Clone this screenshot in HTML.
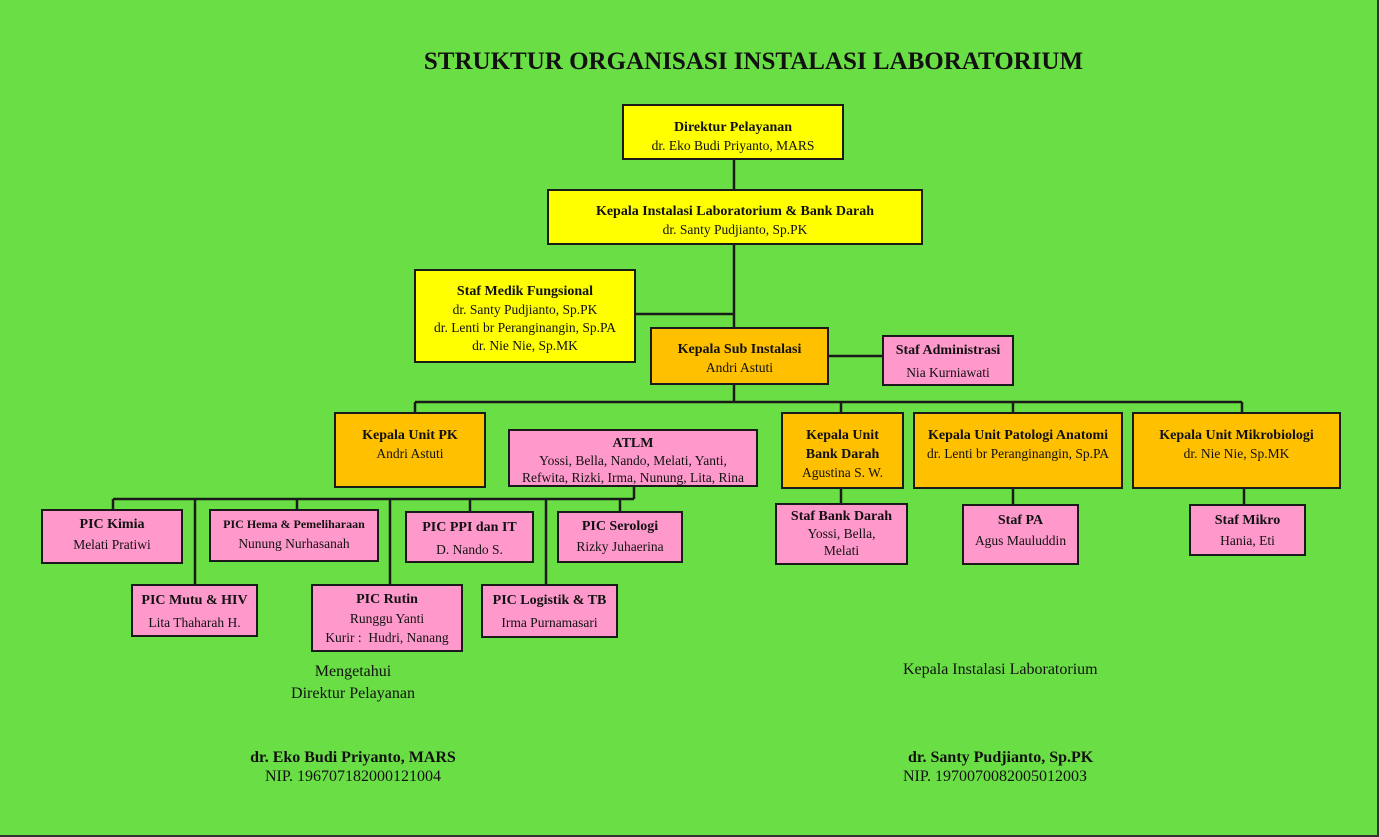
<!DOCTYPE html>
<html><head><meta charset="utf-8"><style>
body{margin:0;width:1379px;height:837px;background:#6ade45;position:relative;overflow:hidden;font-family:"Liberation Serif",serif;color:#111}
.b{position:absolute;box-sizing:border-box;border:2px solid #1a1a1a;text-align:center;font-size:13.5px;line-height:18px;white-space:nowrap}
.y{background:#ffff00}.o{background:#ffc000}.p{background:#ff99cc}
b{font-weight:bold;font-size:14px}
.t{position:absolute;font-size:16px;text-align:center;white-space:nowrap}
.t b{font-size:16px}
svg{position:absolute;left:0;top:0}
</style></head><body>
<div style="position:absolute;right:0;top:0;width:2px;height:837px;background:#333"></div>
<div style="position:absolute;left:0;bottom:0;width:1379px;height:2px;background:#333"></div>
<svg width="1379" height="837"><g stroke="#1a1a1a" stroke-width="2.5" fill="none">
<path d="M734 159V189M734 244V327M635 314H734M828 356H882M734 384V402M415 402H1242M415 402V412M841 402V412M1013 402V412M1242 402V412"/>
<path d="M113 499H634M634 486V499M113 499V509M195 499V584M297 499V509M390 499V584M470 499V511M546 499V584M620 499V511"/>
<path d="M841 488V503M1013 488V504M1244 488V504"/>
</g></svg>
<div class="t" style="left:0;width:1507px;top:48px;font-size:25px;font-weight:bold">STRUKTUR ORGANISASI INSTALASI LABORATORIUM</div>

<div class="b y" style="left:622px;top:104px;width:222px;height:56px;padding-top:12px"><b>Direktur Pelayanan</b><br>dr. Eko Budi Priyanto, MARS</div>
<div class="b y" style="left:547px;top:189px;width:376px;height:56px;padding-top:11px"><b>Kepala Instalasi Laboratorium &amp; Bank Darah</b><br>dr. Santy Pudjianto, Sp.PK</div>
<div class="b y" style="left:414px;top:269px;width:222px;height:94px;padding-top:11px"><b>Staf Medik Fungsional</b><br>dr. Santy Pudjianto, Sp.PK<br>dr. Lenti br Peranginangin, Sp.PA<br>dr. Nie Nie, Sp.MK</div>
<div class="b o" style="left:650px;top:327px;width:179px;height:58px;padding-top:11px"><b>Kepala Sub Instalasi</b><br>Andri Astuti</div>
<div class="b p" style="left:882px;top:335px;width:132px;height:51px;padding-top:4px"><b>Staf Administrasi</b><br><span style="line-height:26px">Nia Kurniawati</span></div>

<div class="b o" style="left:334px;top:412px;width:152px;height:76px;padding-top:12px"><b>Kepala Unit PK</b><br>Andri Astuti</div>
<div class="b p" style="left:508px;top:429px;width:250px;height:58px;padding-top:3px;line-height:17px"><b>ATLM</b><br>Yossi, Bella, Nando, Melati, Yanti,<br>Refwita, Rizki, Irma, Nunung, Lita, Rina</div>
<div class="b o" style="left:781px;top:412px;width:123px;height:77px;padding-top:12px"><b>Kepala Unit<br>Bank Darah</b><br>Agustina S. W.</div>
<div class="b o" style="left:913px;top:412px;width:210px;height:77px;padding-top:12px"><b>Kepala Unit Patologi Anatomi</b><br>dr. Lenti br Peranginangin, Sp.PA</div>
<div class="b o" style="left:1132px;top:412px;width:209px;height:77px;padding-top:12px"><b>Kepala Unit Mikrobiologi</b><br>dr. Nie Nie, Sp.MK</div>

<div class="b p" style="left:41px;top:509px;width:142px;height:55px;padding-top:3px;line-height:20px"><b>PIC Kimia</b><br>Melati Pratiwi</div>
<div class="b p" style="left:209px;top:509px;width:170px;height:53px;padding-top:3px;line-height:20px"><b style="font-size:12px">PIC Hema &amp; Pemeliharaan</b><br>Nunung Nurhasanah</div>
<div class="b p" style="left:405px;top:511px;width:129px;height:52px;padding-top:3px;line-height:22px"><b>PIC PPI dan IT</b><br>D. Nando S.</div>
<div class="b p" style="left:557px;top:511px;width:126px;height:52px;padding-top:3px;line-height:20px"><b>PIC Serologi</b><br>Rizky Juhaerina</div>
<div class="b p" style="left:131px;top:584px;width:127px;height:53px;padding-top:3px;line-height:22px"><b>PIC Mutu &amp; HIV</b><br>Lita Thaharah H.</div>
<div class="b p" style="left:311px;top:584px;width:152px;height:68px;padding-top:3px;line-height:19px"><b>PIC Rutin</b><br>Runggu Yanti<br>Kurir :&nbsp; Hudri, Nanang</div>
<div class="b p" style="left:481px;top:584px;width:137px;height:54px;padding-top:3px;line-height:22px"><b>PIC Logistik &amp; TB</b><br>Irma Purnamasari</div>

<div class="b p" style="left:775px;top:503px;width:133px;height:62px;padding-top:2px;line-height:17px"><b>Staf Bank Darah</b><br>Yossi, Bella,<br>Melati</div>
<div class="b p" style="left:962px;top:504px;width:117px;height:61px;padding-top:4px;line-height:20px"><b>Staf PA</b><br>Agus Mauluddin</div>
<div class="b p" style="left:1189px;top:504px;width:117px;height:52px;padding-top:4px;line-height:20px"><b>Staf Mikro</b><br>Hania, Eti</div>

<div class="t" style="left:253px;width:200px;top:661px;line-height:22px">Mengetahui<br>Direktur Pelayanan</div>
<div class="t" style="left:903px;top:661px">Kepala Instalasi Laboratorium</div>
<div class="t" style="left:203px;width:300px;top:748px;line-height:19px"><b>dr. Eko Budi Priyanto, MARS</b><br>NIP. 196707182000121004</div>
<div class="t" style="left:903px;top:748px;text-align:left;line-height:19px"><b style="padding-left:5px">dr. Santy Pudjianto, Sp.PK</b><br>NIP. 197007008200501200З</div>
</body></html>
